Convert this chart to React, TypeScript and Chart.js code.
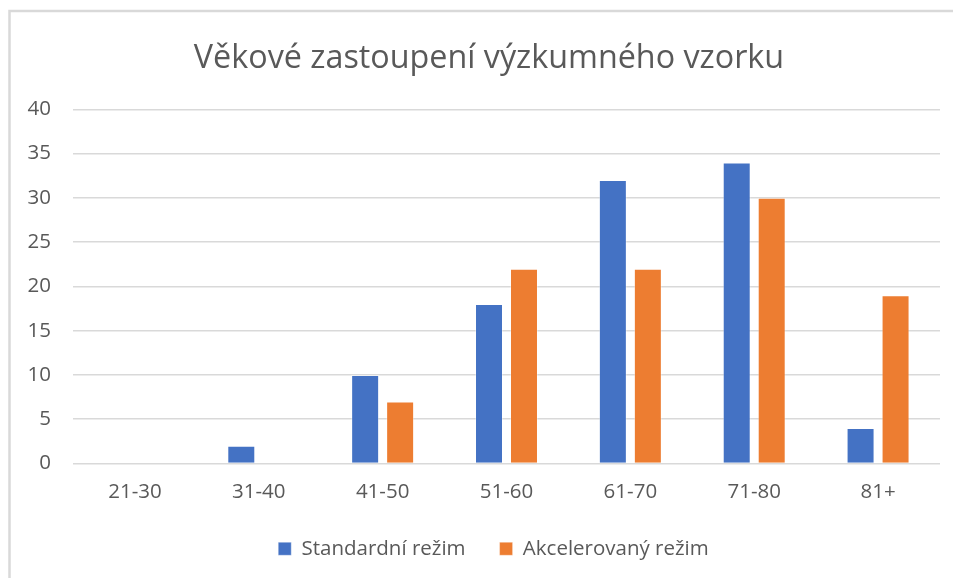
import React, { useEffect, useRef } from "react";
import { Chart, registerables } from "chart.js";

Chart.register(...registerables);

const categories = ["21-30", "31-40", "41-50", "51-60", "61-70", "71-80", "81+"];
const standardValues = [0, 2, 10, 18, 32, 34, 4];
const acceleratedValues = [0, 0, 7, 22, 22, 30, 19];
const seriesNames = ["Standardní režim", "Akcelerovaný režim"];
const titleText = "Věkové zastoupení výzkumného vzorku";
const yMin = 0;
const yMax = 40;
const yStep = 5;

const TEXT = "#595959";
const GRID = "#d9d9d9";
const FONT = "'Open Sans', 'DejaVu Sans', sans-serif";

const framePlugin = {
  id: "frame",
  afterLayout(chart: any) {
    if (chart.titleBlock) {
      chart.titleBlock.left = 0;
      chart.titleBlock.right = 978;
      chart.titleBlock.width = 978;
    }
    if (chart.legend) {
      chart.legend.left = 0;
      chart.legend.right = 987;
    }
  },
  beforeDraw(chart: any) {
    const ctx = chart.ctx;
    ctx.save();
    ctx.fillStyle = "#ffffff";
    ctx.fillRect(0, 0, chart.width, chart.height);
    ctx.strokeStyle = GRID;
    ctx.lineWidth = 2.5;
    ctx.beginPath();
    ctx.moveTo(9.5, chart.height);
    ctx.lineTo(9.5, 11);
    ctx.lineTo(chart.width, 11);
    ctx.stroke();
    ctx.restore();
  },
};

export default function App() {
  const ref = useRef<HTMLCanvasElement | null>(null);
  useEffect(() => {
    if (!ref.current) return;
    const chart = new Chart(ref.current, {
      type: "bar",
      data: {
        labels: categories,
        datasets: [
          {
            label: seriesNames[0],
            data: standardValues,
            backgroundColor: "#4472C4",
            borderColor: "rgba(255,255,255,0.35)",
            borderWidth: 1,
            categoryPercentage: 0.565,
            barPercentage: 0.8,
          },
          {
            label: seriesNames[1],
            data: acceleratedValues,
            backgroundColor: "#ED7D31",
            borderColor: "rgba(255,255,255,0.35)",
            borderWidth: 1,
            categoryPercentage: 0.565,
            barPercentage: 0.8,
          },
        ],
      },
      options: {
        responsive: false,
        animation: false,
        layout: { padding: { left: 0, right: 13, top: 0, bottom: 9 } },
        plugins: {
          title: {
            display: true,
            text: titleText,
            color: TEXT,
            font: { family: FONT, size: 32.3, weight: "normal" },
            padding: { top: 39, bottom: 31.5 },
          },
          legend: {
            position: "bottom",
            labels: {
              color: TEXT,
              font: { family: FONT, size: 20.5 },
              boxWidth: 13,
              boxHeight: 13,
              padding: 34,
            },
          },
          tooltip: { enabled: false },
        },
        scales: {
          x: {
            afterFit: (scale: any) => {
              scale.height = 41;
            },
            grid: { display: false, drawTicks: false },
            border: { display: false },
            ticks: { color: TEXT, font: { family: FONT, size: 20.5 }, padding: 16 },
          },
          y: {
            min: yMin,
            max: yMax,
            afterFit: (scale: any) => {
              scale.width = 73;
            },
            grid: { color: GRID, lineWidth: 1.5, drawTicks: false },
            border: { display: false },
            ticks: {
              stepSize: yStep,
              color: TEXT,
              font: { family: FONT, size: 20.5 },
              padding: 22,
            },
          },
        },
      },
      plugins: [framePlugin],
    });
    return () => chart.destroy();
  }, []);
  return (
    <div style={{ position: "absolute", left: 0, top: 0, width: 953, height: 578 }}>
      <canvas ref={ref} width={953} height={578} />
    </div>
  );
}
